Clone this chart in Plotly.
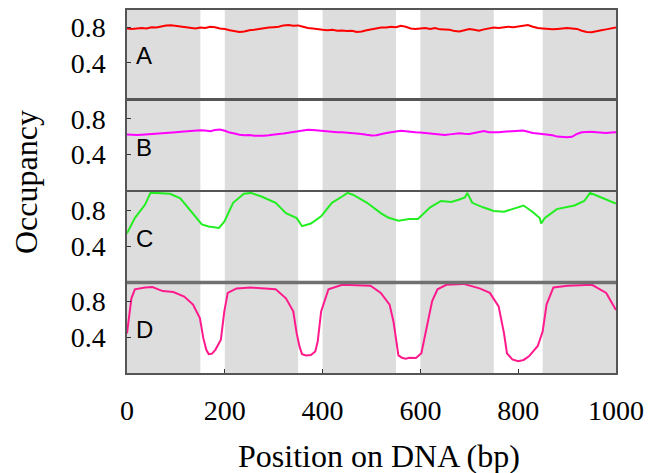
import plotly.graph_objects as go

# ---------------- data ----------------
pos_ab = list(range(0, 1001, 10))

occ_a = [0.79, 0.785, 0.79, 0.795, 0.79, 0.805, 0.80, 0.815, 0.825, 0.826,
         0.82, 0.81, 0.80, 0.795, 0.79, 0.80, 0.795, 0.81, 0.805, 0.79,
         0.785, 0.77, 0.76, 0.75, 0.755, 0.77, 0.775, 0.785, 0.79, 0.80,
         0.805, 0.81, 0.825, 0.83, 0.82, 0.825, 0.81, 0.795, 0.79, 0.78,
         0.775, 0.77, 0.775, 0.765, 0.768, 0.762, 0.765, 0.75, 0.755, 0.77,
         0.78, 0.785, 0.80, 0.80, 0.81, 0.805, 0.82, 0.81, 0.79, 0.785,
         0.79, 0.795, 0.785, 0.795, 0.78, 0.775, 0.775, 0.76, 0.755, 0.77,
         0.785, 0.775, 0.765, 0.78, 0.79, 0.80, 0.795, 0.80, 0.81, 0.805,
         0.815, 0.825, 0.83, 0.81, 0.795, 0.79, 0.785, 0.78, 0.785, 0.79,
         0.795, 0.79, 0.785, 0.765, 0.75, 0.748, 0.755, 0.77, 0.78, 0.79,
         0.80]

occ_b = [0.625, 0.62, 0.618, 0.622, 0.625, 0.629, 0.632, 0.638, 0.642, 0.645,
         0.65, 0.655, 0.66, 0.665, 0.668, 0.672, 0.668, 0.66, 0.675, 0.68,
         0.665, 0.645, 0.635, 0.62, 0.615, 0.618, 0.61, 0.608, 0.61, 0.615,
         0.625, 0.63, 0.635, 0.645, 0.655, 0.665, 0.672, 0.678, 0.675, 0.67,
         0.66, 0.652, 0.65, 0.648, 0.65, 0.646, 0.64, 0.635, 0.63, 0.62,
         0.612, 0.615, 0.63, 0.64, 0.65, 0.658, 0.665, 0.66, 0.652, 0.648,
         0.645, 0.64, 0.637, 0.63, 0.625, 0.618, 0.625, 0.635, 0.638, 0.632,
         0.63, 0.64, 0.655, 0.662, 0.65, 0.645, 0.648, 0.655, 0.66, 0.665,
         0.67, 0.668, 0.655, 0.64, 0.635, 0.63, 0.625, 0.615, 0.60, 0.595,
         0.592, 0.598, 0.63, 0.648, 0.652, 0.655, 0.65, 0.645, 0.64, 0.645,
         0.648]

pos_c = [0, 16, 37, 48, 59, 88, 109, 131, 153, 167, 188, 199, 217, 239, 253,
         275, 304, 325, 347, 358, 376, 397, 419, 440, 451, 462, 491, 519, 534,
         555, 577, 595, 620, 642, 663, 678, 691, 696, 706, 728, 750, 771, 789,
         811, 829, 844, 847, 854, 879, 915, 935, 947, 965, 1000]
occ_c = [0.54, 0.71, 0.86, 0.99, 0.99, 0.98, 0.93, 0.78, 0.64, 0.616, 0.60,
         0.67, 0.88, 0.98, 0.99, 0.95, 0.88, 0.765, 0.71, 0.62, 0.65, 0.73,
         0.88, 0.95, 0.99, 0.97, 0.88, 0.765, 0.716, 0.68, 0.70, 0.70, 0.83,
         0.90, 0.89, 0.914, 0.94, 0.99, 0.88, 0.83, 0.79, 0.78, 0.81, 0.85,
         0.78, 0.71, 0.65, 0.71, 0.81, 0.85, 0.90, 0.99, 0.95, 0.87]

pos_d = [0, 9, 16, 37, 52, 73, 95, 117, 135, 149, 156, 162, 167, 174, 181,
         192, 199, 206, 224, 253, 304, 325, 340, 347, 353, 358, 366, 376, 385,
         390, 397, 412, 440, 498, 519, 537, 545, 555, 562, 570, 577, 591, 602,
         613, 624, 635, 653, 688, 721, 742, 760, 771, 777, 788, 800, 811, 822,
         840, 850, 858, 872, 901, 951, 980, 1000]
occ_d = [0.44, 0.83, 0.93, 0.95, 0.955, 0.91, 0.90, 0.85, 0.76, 0.61, 0.39,
         0.26, 0.21, 0.215, 0.26, 0.37, 0.685, 0.89, 0.94, 0.95, 0.93, 0.83,
         0.685, 0.44, 0.29, 0.21, 0.195, 0.20, 0.24, 0.35, 0.685, 0.93, 0.98,
         0.97, 0.89, 0.76, 0.57, 0.196, 0.17, 0.16, 0.17, 0.167, 0.22, 0.50,
         0.80, 0.93, 0.98, 0.99, 0.94, 0.89, 0.74, 0.44, 0.22, 0.15, 0.13,
         0.145, 0.185, 0.30, 0.46, 0.76, 0.95, 0.97, 0.98, 0.89, 0.70]

shade_start = [0, 200, 400, 600, 850]
shade_end = [150, 350, 550, 750, 1000]

panel_labels = ["A", "B", "C", "D"]
x_ticks = [0, 200, 400, 600, 800, 1000]
y_ticks = [0.4, 0.8]

# ---------------- figure ----------------
# page has an 8px body margin; figure starts at (8, 8) in the window
OFF = 8
W, H = 652 - 2 * OFF, 473 - OFF
series = [
    (pos_ab, occ_a, "#ff0000"),
    (pos_ab, occ_b, "#ff00ff"),
    (pos_c, occ_c, "#22ee22"),
    (pos_d, occ_d, "#ff1a8c"),
]
# panel pixel extents in the window (top, bottom)
panels_px = [(10, 98), (101, 190), (192, 282), (283, 373)]
x_left, x_right = 127, 616


def fx(px):
    return (px - OFF) / W


def fy(py):
    return 1 - (py - OFF) / H


fig = go.Figure()
layout = dict(
    template="none",
    width=W, height=H, autosize=False,
    margin=dict(l=0, r=0, t=0, b=0, pad=0, autoexpand=False),
    paper_bgcolor="white", plot_bgcolor="white",
    showlegend=False,
    shapes=[], annotations=[],
)

serif = "Liberation Serif"

for i, ((xs, ys, col), (top, bot)) in enumerate(zip(series, panels_px)):
    n = "" if i == 0 else str(i + 1)
    xa, ya = "x" + n, "y" + n
    fig.add_trace(go.Scatter(x=xs, y=ys, mode="lines",
                             line=dict(color=col, width=2),
                             xaxis=xa, yaxis=ya, hoverinfo="skip"))
    last = (i == 3)
    layout["xaxis" + n] = dict(
        domain=[fx(x_left), fx(x_right)],
        anchor=ya, range=[0, 1000], automargin=False,
        showgrid=False, zeroline=False,
        showline=True, mirror=True, linecolor="#555555", linewidth=1.5,
        tickvals=x_ticks if last else [],
        ticks="inside" if last else "", ticklen=4, tickcolor="#333333",
        showticklabels=last,
        tickfont=dict(family=serif, size=28, color="black"),
        ticklabelstandoff=12,
    )
    layout["yaxis" + n] = dict(
        domain=[fy(bot), fy(top)],
        anchor=xa, range=[0, 1], automargin=False,
        showgrid=False, zeroline=False,
        showline=True, mirror=True, linecolor="#555555", linewidth=1.5,
        tickvals=y_ticks, ticktext=["0.4", "0.8"],
        ticks="inside", ticklen=4, tickcolor="#333333",
        tickfont=dict(family=serif, size=28, color="black"),
        ticklabelstandoff=14,
    )
    for s0, s1 in zip(shade_start, shade_end):
        layout["shapes"].append(dict(
            type="rect", xref=xa, yref=ya + " domain",
            x0=s0, x1=s1, y0=0, y1=1,
            fillcolor="#dddddd", line=dict(width=0), layer="below"))
    layout["annotations"].append(dict(
        text=panel_labels[i], xref=xa, yref=ya, x=14, y=0.48,
        xanchor="left", yanchor="middle", showarrow=False,
        font=dict(family="Liberation Sans", size=24, color="black")))

# thick separator between panels C and D
layout["shapes"].append(dict(
    type="line", xref="paper", yref="paper",
    x0=fx(x_left), x1=fx(x_right), y0=fy(282.5), y1=fy(282.5),
    line=dict(color="#707070", width=3.5), layer="above"))

layout["annotations"].append(dict(
    text="Occupancy", xref="paper", yref="paper",
    x=fx(26), y=fy(182), textangle=-90,
    xanchor="center", yanchor="middle", showarrow=False,
    font=dict(family=serif, size=32, color="black")))
layout["annotations"].append(dict(
    text="Position on DNA (bp)", xref="paper", yref="paper",
    x=fx(379), y=fy(456),
    xanchor="center", yanchor="middle", showarrow=False,
    font=dict(family=serif, size=32, color="black")))

fig.update_layout(**layout)
fig.write_html("out.html")
